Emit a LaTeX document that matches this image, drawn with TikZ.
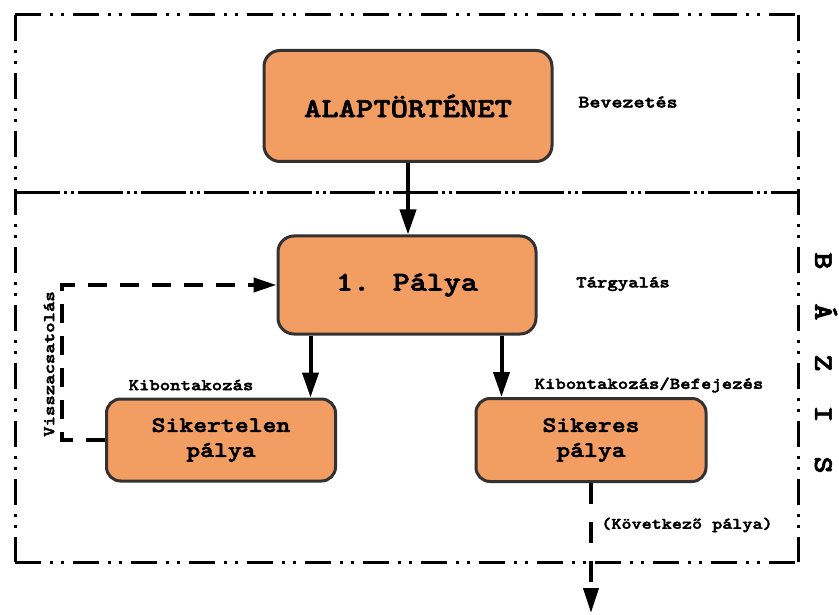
\documentclass[tikz,border=0pt]{standalone}
\usepackage{fontspec}
\newfontfamily\slab{lmmonolt10-bold}[Extension=.otf, FakeStretch=1.2, FakeBold=2.5]
\usetikzlibrary{arrows.meta}
\definecolor{boxfill}{RGB}{242,157,98}
\definecolor{boxline}{RGB}{50,50,50}
\begin{document}
\begin{tikzpicture}[x=1pt,y=-1pt,
  stagebox/.style={draw=boxline, line width=3pt, fill=boxfill, rounded corners=16pt, inner sep=0pt, align=center},
  frameline/.style={line width=3pt, dash pattern=on 26pt off 9pt on 3pt off 8pt on 3pt off 9pt},
  midline/.style={line width=3pt, dash pattern=on 45pt off 4pt on 3pt off 4pt on 3pt off 4pt},
  flow/.style={line width=4pt, -{Triangle[length=25pt,width=16pt]}},
  dashflow/.style={line width=4pt, dash pattern=on 19pt off 13pt, -{Triangle[length=23pt,width=14pt]}},
  lbl/.style={font=\slab\fontsize{16.5}{18}\selectfont, inner sep=0pt},
]
\useasboundingbox (0,0) rectangle (839,615);
% frames
\draw[frameline] (15,15) -- (798,15);
\draw[frameline] (15,15) -- (15,562);
\draw[frameline] (798,15) -- (798,562);
\draw[frameline] (15,562) -- (798,562);
\draw[midline] (15,193) -- (798,193);
% boxes
\node[stagebox, minimum width=288pt, minimum height=111pt, font=\slab\fontsize{27.5}{30}\selectfont] (alap) at (408,106) {ALAPTÖRTÉNET};
\node[stagebox, minimum width=258pt, minimum height=98pt, font=\slab\fontsize{27}{30}\selectfont] (p1) at (407,285) {1. Pálya};
\node[stagebox, minimum width=229pt, minimum height=82pt, rounded corners=14pt, font=\slab\fontsize{22}{25}\selectfont] (sik) at (221,440) {Sikertelen\\pálya};
\node[stagebox, minimum width=230pt, minimum height=83pt, rounded corners=14pt, font=\slab\fontsize{22}{25}\selectfont] (siker) at (591,440) {Sikeres\\pálya};
% labels
\node[lbl, font=\slab\fontsize{17.5}{19}\selectfont] (bev) at (628,102) {Bevezetés};
\node[lbl] (targy) at (623,284) {Tárgyalás};
\node[lbl] (kib1) at (191,385) {Kibontakozás};
\node[lbl] (kib2) at (649,385) {Kibontakozás/Befejezés};
\node[lbl, font=\slab\fontsize{16}{18}\selectfont] (kov) at (687,525) {(Következő pálya)};
\node[lbl, rotate=90] (vissza) at (49,364) {Visszacsatolás};
\node[rotate=-90, inner sep=0pt, font=\slab\fontsize{27}{28}\selectfont] (bazis) at (826,363) {B~~Á~~Z~~I~~S};
% connectors
\draw[flow] (alap.south) -- (alap.south |- p1.north);
\draw[flow] ([xshift=34pt]p1.south west) -- ([xshift=34pt]p1.south west |- sik.north);
\draw[flow] ([xshift=-36pt]p1.south east) -- ([xshift=-36pt]p1.south east |- siker.north);
\draw[dashflow] (sik.west) -- ++(-43,0) |- (p1.west);
\coordinate (next) at (591,613);
\draw[dashflow, dash pattern=on 21pt off 18pt, -{Triangle[length=25pt,width=15pt]}] (siker.south) -- (next);
\end{tikzpicture}
\end{document}
